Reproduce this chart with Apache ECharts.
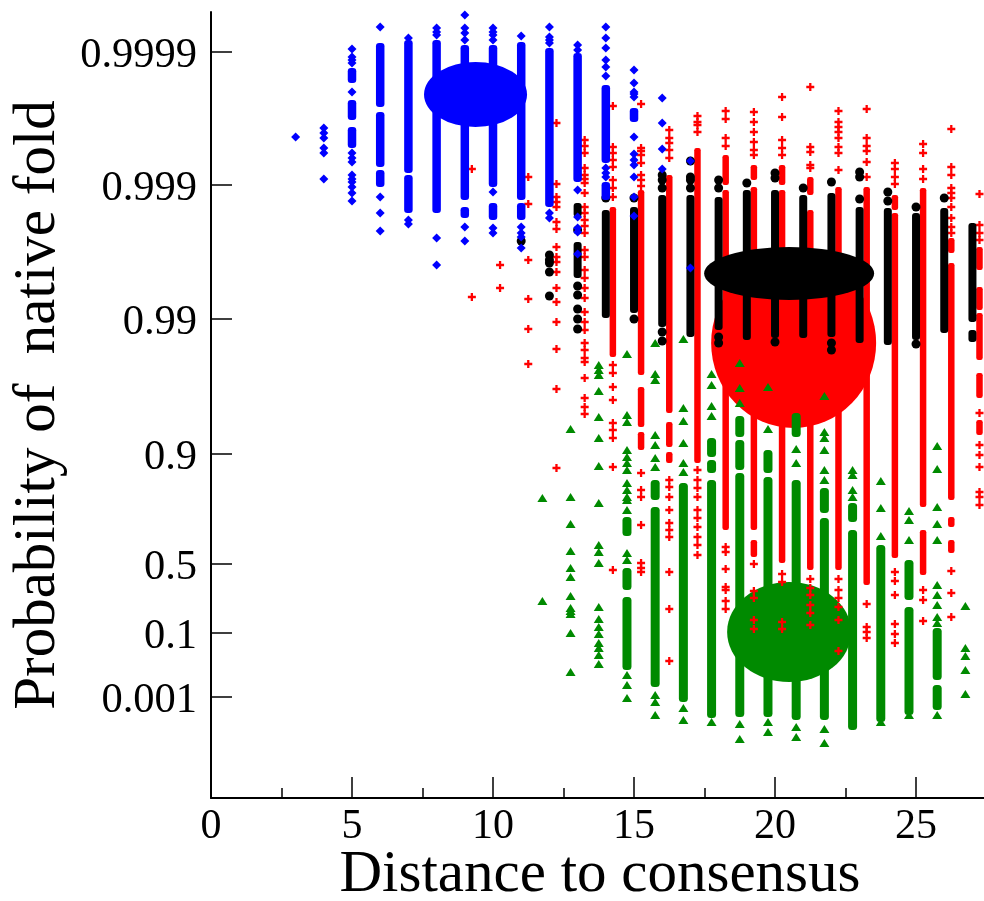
<!DOCTYPE html>
<html>
<head>
<meta charset="utf-8">
<title>Probability of native fold</title>
<style>html,body{margin:0;padding:0;background:#fff}#chart{width:984px;height:901px}</style>
<script src="https://cdn.jsdelivr.net/npm/echarts@6/dist/echarts.min.js"></script>
</head>
<body>
<div id="chart"></div>
<script>
// y axis is a stretched probability scale, tick values below are in that scale
var yTickValues = [7.46, 6.13, 4.79, 3.44, 2.34, 1.65, 1.01];
var yTickLabels = ['0.9999', '0.999', '0.99', '0.9', '0.5', '0.1', '0.001'];
var xMajorTicks = [0, 5, 10, 15, 20, 25];
var xMinorTicks = [2.5, 7.5, 12.5, 17.5, 22.5];

// means of each group, [distance, probability]
var blueMean = [[9.38, 7.035]];
var blackMean = [[20.5, 5.245]];
var redMean = [[20.66, 4.55]];
var greenMean = [[20.5, 1.66]];

// dense stretches of a column, [distance, low, high]
var blueBands = [
    [5,6.50,6.71],[5,7.15,7.30],[5,6.78,6.98],[6,6.91,7.55],[6,6.31,6.86],[6,6.11,6.28],
    [7,6.25,7.58],[7,5.85,6.23],[8,5.85,7.58],[9,5.98,7.53],[9,5.80,5.91],[10,6.11,7.53],
    [10,5.78,5.95],[11,5.98,7.56],[11,5.78,5.95],[12,5.91,7.50],[13,6.16,7.45],[14,6.35,7.13],
    [14,5.98,6.16],[15,6.76,6.90]
];
var blackBands = [
    [13,5.20,5.56],[13,5.81,5.95],[14,4.80,5.88],[15,4.85,5.91],[16,4.71,6.03],[17,4.61,6.03],
    [18,4.68,6.01],[19,4.58,6.08],[20,4.60,6.08],[21,4.60,6.03],[22,4.61,6.05],[23,4.55,5.91],
    [24,4.53,5.90],[25,4.58,5.85],[26,4.65,5.90],[27,4.76,5.75],[27,4.56,4.68]
];
var redBands = [
    [14.25,4.41,5.91],[15.25,4.23,6.08],[15.25,3.71,4.11],[15.25,3.48,3.66],[16.25,3.85,6.23],
    [16.25,3.51,3.76],[16.25,3.35,3.46],[17.25,3.35,6.50],[18.25,2.68,6.08],[18.25,6.13,6.43],
    [19.25,2.68,6.11],[19.25,6.18,6.33],[19.25,2.41,2.58],[20.25,2.35,6.08],[20.25,6.13,6.33],
    [21.25,2.28,5.88],[21.25,6.03,6.21],[22.25,2.28,6.11],[23.25,2.13,6.11],[24.25,2.40,5.85],
    [24.25,5.88,6.03],[25.25,2.91,6.10],[25.25,2.23,2.68],[26.25,2.98,5.35],[26.25,5.45,5.60],
    [26.25,2.71,2.81],[26.25,2.45,2.58],[27.25,5.28,5.51],[27.25,4.88,5.11],[27.25,4.38,4.85],
    [27.25,4.00,4.25],[27.25,3.63,3.78]
];
var greenBands = [
    [14.75,1.28,2.01],[14.75,2.08,2.30],[14.75,2.62,2.81],[15.75,1.11,2.91],[15.75,2.98,3.18],
    [16.75,0.96,3.15],[17.75,0.80,3.18],[17.75,3.25,3.38],[17.75,3.41,3.60],[18.75,0.81,3.25],
    [18.75,3.28,3.58],[18.75,3.61,3.82],[19.75,0.81,3.21],[19.75,3.25,3.48],[20.75,0.78,3.18],
    [20.75,3.61,3.85],[21.75,0.78,2.80],[21.75,2.85,3.10],[22.75,0.68,2.68],[22.75,2.76,2.95],
    [23.75,0.76,2.53],[24.75,0.83,1.91],[24.75,1.98,2.38],[25.75,1.18,1.70],[25.75,0.88,1.13]
];

// single points of a column, [distance, [probabilities]]
var blueDots = [
    [3,[6.61]],
    [4,[6.70,6.65,6.60,6.50,6.45,6.19]],
    [5,[7.49,7.41,7.38,7.35,7.06,6.45,6.40,6.36,6.23,6.19,6.16,6.11,6.05,5.97]],
    [6,[7.71,6.01,5.85,5.67]],
    [7,[7.60,5.78,5.74]],
    [8,[7.70,7.66,7.63,5.60,5.33]],
    [9,[7.83,7.70,7.65,7.58,5.71,5.57]],
    [10,[7.70,7.66,7.63,7.58,6.06,5.70,5.65]],
    [11,[7.62,5.71,5.65,5.61,5.50]],
    [12,[7.71,7.61,7.58,7.55,5.85,5.80]],
    [13,[7.53,7.48,6.08,5.81,5.70,5.66,5.44]],
    [14,[7.71,7.60,7.50,7.38,7.31,7.22,6.30,6.25,6.21]],
    [15,[7.28,7.15,7.06,7.04,7.01,6.61,6.44,6.38,6.33,6.21,6.01,5.82]],
    [16,[7.00,6.75,6.49,6.29]],
    [17,[6.37,5.30]]
];
var blackDots = [
    [11,[5.57]],
    [12,[5.43,5.38,5.35,5.26,5.02]],
    [13,[5.68,5.12,5.03,4.89,4.79,4.69]],
    [14,[6.00]],
    [15,[6.00,4.79]],
    [16,[6.23,6.18,6.10,4.66,4.57]],
    [17,[6.37,6.21,6.18,6.10]],
    [18,[6.18,6.10,4.61,4.55]],
    [19,[6.15]],
    [20,[6.25,6.20,4.56]],
    [21,[6.10]],
    [22,[6.16,4.55,4.48]],
    [23,[6.26,6.21,5.99]],
    [24,[6.06,5.97]],
    [25,[5.91,4.54]],
    [26,[6.00]]
];
var redDots = [
    [9.25,[6.29,5.01]],
    [10.25,[5.33,5.10]],
    [11.25,[6.21,5.94,5.38,4.99,4.69,4.34]],
    [12.25,[6.75,6.14,6.01,5.96,5.91,5.76,5.69,5.51,5.41,5.36,5.26,5.10,4.96,4.76,4.49,4.09,3.30]],
    [13.25,[6.58,6.52,6.45,6.30,6.23,6.19,6.15,6.05,5.91,5.85,5.78,5.72,5.65,5.48,5.41,5.28,5.20,5.10,5.00,4.86,4.76,4.68,4.55,4.48,4.40,4.36,4.20,4.00,3.91,3.84]],
    [14.25,[6.92,6.51,6.45,6.38,6.31,6.18,6.10,6.01,4.33,4.25,4.11,3.98,3.75,3.68,3.60,3.31,2.28]],
    [15.25,[6.94,6.50,6.47,6.43,6.35,6.23,6.18,6.12,3.25,3.08,3.01,2.73,2.35,2.30,2.26]],
    [16.25,[6.68,6.60,6.55,6.48,6.40,3.18,3.11,3.01,2.88,2.75,2.68,2.61,2.26,1.89,1.37]],
    [17.25,[6.82,6.76,6.73,6.66,3.28,3.18,3.10,3.01,2.88,2.80,2.71,2.61,2.53,2.43]],
    [18.25,[6.87,6.79,6.60,6.52,2.51,2.46,2.29,2.11,2.08,1.97,1.89]],
    [19.25,[6.86,6.76,6.66,6.56,6.48,6.43,2.34,2.07,2.00,1.78,1.69]],
    [20.25,[7.01,6.81,6.58,6.50,6.43,2.24,2.16,1.76,1.69]],
    [21.25,[7.11,6.51,6.46,6.33,6.30,2.19,2.10,2.03,1.93,1.85,1.73]],
    [22.25,[6.87,6.76,6.71,6.66,6.60,6.51,6.45,6.28,2.19,2.08,2.00,1.91,1.78,1.47]],
    [23.25,[6.89,6.60,6.52,6.47,6.36,6.21,1.94,1.71,1.66,1.60]],
    [24.25,[6.35,6.29,6.21,6.14,2.26,2.17,2.03,1.74,1.64,1.55]],
    [25.25,[6.54,6.45,6.29,6.19,2.08,1.98,1.77]],
    [26.25,[6.69,6.31,6.23,6.10,6.05,6.00,5.91,5.80,5.71,5.65,2.27,2.05,1.81]],
    [27.25,[6.04,5.73,5.65,5.58,3.85,3.53,3.43,3.31,3.06,3.01,2.93]]
];
var greenDots = [
    [11.75,[3.00,1.97]],
    [12.75,[3.69,3.01,2.74,2.47,2.30,2.21,2.02,1.90,1.87,1.84,1.65,1.26]],
    [13.75,[4.33,4.28,4.23,4.07,3.81,3.60,3.32,2.95,2.53,2.46,2.35,1.91,1.79,1.71,1.64,1.55,1.50,1.43,1.34]],
    [14.75,[4.44,3.83,3.76,3.48,3.41,3.35,3.28,3.15,3.08,3.01,2.98,2.88,2.45,2.38,1.23,1.13,1.00]],
    [15.75,[4.55,4.24,4.18,3.63,3.53,3.40,3.31,1.03,0.96,0.83]],
    [16.75,[4.59,3.90,3.77,3.55,3.35,3.26,0.90,0.78]],
    [17.75,[4.24,4.13,3.92,3.82,0.76]],
    [18.75,[4.35,4.10,3.95,0.74,0.59]],
    [19.75,[4.11,3.69,0.76,0.66]],
    [20.75,[3.49,3.35,0.71,0.61]],
    [21.75,[4.02,3.66,3.60,3.48,3.28,3.18,0.69,0.55]],
    [22.75,[3.28,3.23,3.08,3.01]],
    [23.75,[3.17,2.90,2.62,0.76]],
    [24.75,[2.87,2.78,2.58,0.83]],
    [25.75,[3.52,3.29,2.91,2.74,2.58,2.13,2.03,1.93,1.81,1.75,0.83]],
    [26.75,[1.92,1.50,1.42,1.28,1.04]]
];

var serif = '"Liberation Serif", serif';
var plusPath = 'path://M2.5 0h2v2.5h2.5v2h-2.5v2.5h-2v-2.5h-2.5v-2h2.5z';

function flatten(dots) {
    var out = [];
    dots.forEach(function (col) {
        col[1].forEach(function (v) { out.push([col[0], v]); });
    });
    return out;
}

function bandSeries(bands, color, width) {
    return {
        type: 'custom',
        data: bands,
        encode: {x: 0, y: [1, 2]},
        silent: true,
        renderItem: function (params, api) {
            var top = api.coord([api.value(0), api.value(2)]);
            var bottom = api.coord([api.value(0), api.value(1)]);
            return {
                type: 'rect',
                shape: {x: top[0] - width / 2, y: top[1], width: width, height: bottom[1] - top[1], r: width / 2 - 1},
                style: {fill: color}
            };
        }
    };
}

function dotSeries(dots, symbol, size, color) {
    return {
        type: 'scatter',
        data: flatten(dots),
        symbol: symbol,
        symbolSize: size,
        itemStyle: {color: color, opacity: 1},
        silent: true
    };
}

function meanSeries(point, size, color) {
    return {
        type: 'scatter',
        data: point,
        symbol: 'circle',
        symbolSize: size,
        itemStyle: {color: color, opacity: 1},
        silent: true
    };
}

// drawing order matters, later groups sit on top
var layers = [
    meanSeries(redMean, [165, 170], '#ff0000'),
    bandSeries(greenBands, '#008a00', 9),
    dotSeries(greenDots, 'triangle', [10, 8], '#008a00'),
    meanSeries(greenMean, [124, 100], '#008a00'),
    bandSeries(redBands, '#ff0000', 6.5),
    dotSeries(redDots, plusPath, 8, '#ff0000'),
    bandSeries(blackBands, '#000', 8),
    dotSeries(blackDots, 'circle', 9, '#000'),
    meanSeries(blackMean, [170, 53], '#000'),
    bandSeries(blueBands, '#0000ff', 8.5),
    dotSeries(blueDots, 'diamond', 9, '#0000ff'),
    meanSeries(blueMean, [103, 65], '#0000ff')
];
layers.forEach(function (s, i) { s.z = i + 2; });

var chart = echarts.init(document.getElementById('chart'), null, {renderer: 'canvas'});
chart.setOption({
    animation: false,
    backgroundColor: '#fff',
    grid: {left: 211, top: 12, width: 773, height: 786, containLabel: false, outerBoundsMode: 'none'},
    xAxis: [{
        type: 'value', min: 0, max: 27.41, position: 'bottom',
        name: 'Distance to consensus',
        nameLocation: 'middle', nameGap: 48, nameMoveOverlap: false,
        nameTextStyle: {fontFamily: serif, fontSize: 59, color: '#000', padding: [0, 0, 0, 5]},
        splitLine: {show: false},
        axisLine: {show: true, lineStyle: {color: '#000', width: 2}},
        axisTick: {show: true, inside: true, length: 21, customValues: xMajorTicks, lineStyle: {color: '#000', width: 1.5}},
        axisLabel: {show: true, customValues: xMajorTicks, margin: 8, fontFamily: serif, fontSize: 42, color: '#000'}
    }, {
        type: 'value', min: 0, max: 27.41, position: 'bottom',
        splitLine: {show: false},
        axisLine: {show: false},
        axisTick: {show: true, inside: true, length: 10, customValues: xMinorTicks, lineStyle: {color: '#000', width: 1.5}},
        axisLabel: {show: false}
    }],
    yAxis: {
        type: 'value', min: 0, max: 7.86,
        name: 'Probability of  native fold',
        nameLocation: 'middle', nameGap: 143, nameMoveOverlap: false,
        nameTextStyle: {fontFamily: serif, fontSize: 59, color: '#000'},
        splitLine: {show: false},
        axisLine: {show: true, lineStyle: {color: '#000', width: 2}},
        axisTick: {show: true, inside: true, length: 21, customValues: yTickValues, lineStyle: {color: '#000', width: 1.5}},
        axisLabel: {
            show: true, customValues: yTickValues, margin: 14,
            color: '#000',
            rich: {t: {fontFamily: serif, fontSize: 42.5, color: '#000', padding: [7, 0, 0, 0]}},
            formatter: function (v) { return '{t|' + yTickLabels[yTickValues.indexOf(v)] + '}'; }
        }
    },
    series: layers
});
</script>
</body>
</html>
